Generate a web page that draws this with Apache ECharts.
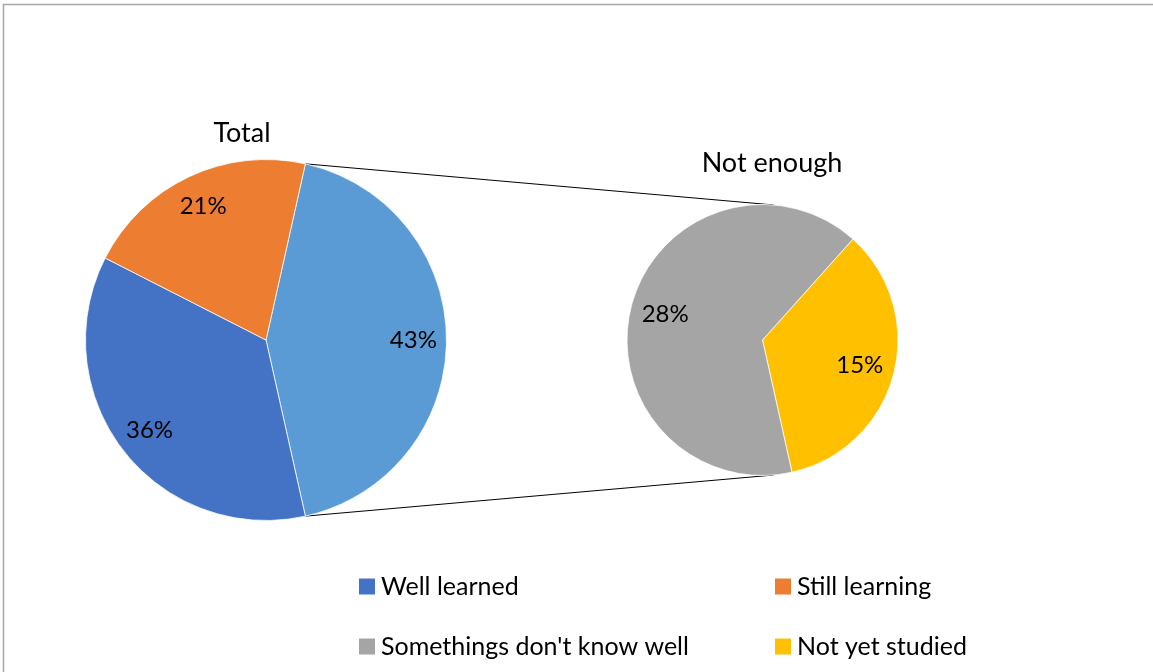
<!DOCTYPE html>
<html>
<head>
<meta charset="utf-8">
<script src="https://cdn.jsdelivr.net/npm/echarts@6/dist/echarts.min.js"></script>
<style>
html,body{margin:0;padding:0;background:#fff;}
#chart{width:1153px;height:672px;}
</style>
</head>
<body>
<div id="chart"></div>
<script>
// ---- data ----
var totalNames = ['Not enough', 'Well learned', 'Still learning'];
var totalValues = [43, 36, 21];
var otherNames = ['Not yet studied', "Somethings don't know well"];
var otherValues = [15, 28];
var legendNames = ['Well learned', 'Still learning', "Somethings don't know well", 'Not yet studied'];
var pieTitles = ['Total', 'Not enough'];

var colors = {
  'Not enough': '#5B9BD5',
  'Well learned': '#4472C4',
  'Still learning': '#ED7D31',
  "Somethings don't know well": '#A5A5A5',
  'Not yet studied': '#FFC000'
};

var FONT = 'Lato';
var C1 = [266, 340], R1 = 180.5;
var C2 = [762.5, 340], R2 = 135.5;
var sumT = totalValues.reduce(function(a,b){return a+b;},0);
var sumO = otherValues.reduce(function(a,b){return a+b;},0);
// the split slice is centred on the right horizontal (angles ccw from 3 o'clock)
var start1 = (totalValues[0] / sumT * 360) / 2;
var start2 = -14.65 + (otherValues[0] / sumO * 360) / 2;

function mk(names, vals){
  return names.map(function(n,i){ return {name:n, value:vals[i], itemStyle:{color:colors[n]}}; });
}
function mkT(names, vals){
  return names.map(function(n,i){ return {name:n, value:vals[i], itemStyle:{color:'rgba(0,0,0,0)'}}; });
}

// connector lines computed from pie geometry
var a1 = (90 - start1) * Math.PI / 180; // clockwise from top
var a2 = 4.7 * Math.PI / 180;
var pTop1 = [C1[0] + R1 * Math.sin(a1), C1[1] - R1 * Math.cos(a1)];
var pBot1 = [C1[0] + R1 * Math.sin(a1), C1[1] + R1 * Math.cos(a1)];
var pTop2 = [C2[0] + R2 * Math.sin(a2), C2[1] - R2 * Math.cos(a2)];
var pBot2 = [C2[0] + R2 * Math.sin(a2), C2[1] + R2 * Math.cos(a2)];

var labelStyle = {show:true, position:'inside', formatter:'{c}%', fontFamily:FONT, fontSize:24, color:'#000'};

function legendAt(name, left, top){
  return {
    data:[name], left:left, top:top, orient:'horizontal', padding:0,
    icon:'rect', itemWidth:18, itemHeight:18, itemGap:10,
    textStyle:{fontFamily:FONT, fontSize:25, color:'#000', padding:[0,0,0,0]},
    selectedMode:false
  };
}

var chart = echarts.init(document.getElementById('chart'), null, {renderer:'canvas'});
chart.setOption({
  animation:false,
  backgroundColor:'#fff',
  title:[
    {text:pieTitles[0], left:237, top:115, textAlign:'center', textStyle:{fontFamily:FONT, fontSize:27, fontWeight:'normal', color:'#000'}},
    {text:pieTitles[1], left:767, top:145, textAlign:'center', textStyle:{fontFamily:FONT, fontSize:27, fontWeight:'normal', color:'#000'}}
  ],
  legend:[
    legendAt(legendNames[0], 357, 574),
    legendAt(legendNames[1], 773, 574),
    legendAt(legendNames[2], 357, 634),
    legendAt(legendNames[3], 773, 634)
  ],
  graphic:[
    {type:'rect', shape:{x:3.5, y:4.5, width:1200, height:800}, style:{fill:null, stroke:'#a6a6a6', lineWidth:1.5}, silent:true, z:-10},
    {type:'line', shape:{x1:pTop1[0], y1:pTop1[1], x2:pTop2[0], y2:pTop2[1]}, style:{stroke:'#000', lineWidth:1}, silent:true},
    {type:'line', shape:{x1:pBot1[0], y1:pBot1[1], x2:pBot2[0], y2:pBot2[1]}, style:{stroke:'#000', lineWidth:1}, silent:true}
  ],
  series:[
    {type:'pie', center:C1, radius:R1, startAngle:start1, clockwise:true, data:mk(totalNames,totalValues),
     label:{show:false}, labelLine:{show:false}, itemStyle:{borderColor:'#fff', borderWidth:0.75}, silent:true},
    {type:'pie', center:C2, radius:R2, startAngle:start2, clockwise:true, data:mk(otherNames,otherValues),
     label:{show:false}, labelLine:{show:false}, itemStyle:{borderColor:'#fff', borderWidth:0.75}, silent:true},
    {type:'pie', center:C1, radius:[R1*0.6, R1], startAngle:start1, clockwise:true, data:mkT(totalNames,totalValues),
     label:labelStyle, labelLine:{show:false}, silent:true, z:5},
    {type:'pie', center:C2, radius:[R2*0.44, R2], startAngle:start2, clockwise:true, data:mkT(otherNames,otherValues),
     label:labelStyle, labelLine:{show:false}, silent:true, z:5}
  ]
});
</script>
</body>
</html>
